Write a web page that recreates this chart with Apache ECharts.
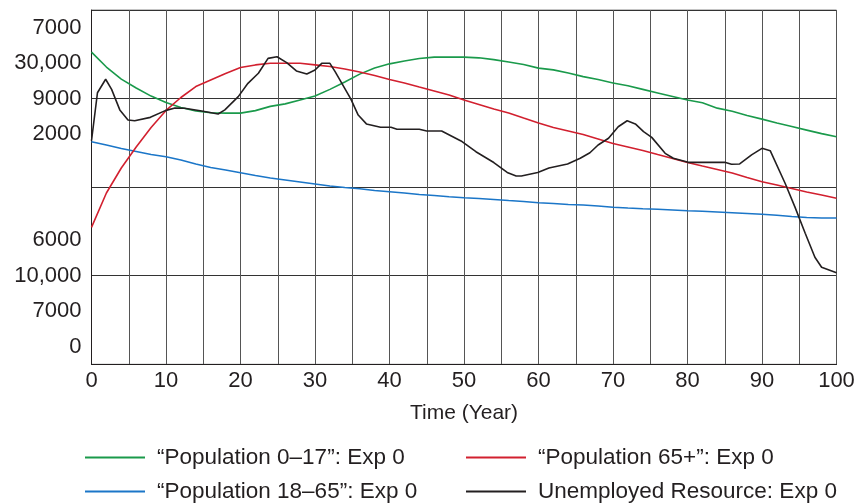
<!DOCTYPE html>
<html>
<head>
<meta charset="utf-8">
<script src="https://cdn.jsdelivr.net/npm/echarts@6/dist/echarts.min.js"></script>
<style>
html,body{margin:0;padding:0;background:#fff;}
#chart{width:860px;height:503px;}
</style>
</head>
<body>
<div id="chart"></div>
<script>
// ---- data ----
var years = [0,2,4,6,8,10,12,14,16,18,20,22,24,26,28,30,32,34,36,38,40,42,44,46,48,50,52,54,56,58,60,62,64,66,68,70,72,74,76,78,80,82,84,86,88,90,92,94,96,98,100];
var pop0_17 = [6881,6839,6805,6780,6757,6739,6725,6715,6710,6709,6709,6716,6728,6735,6746,6757,6776,6797,6819,6836,6848,6856,6863,6867,6867,6867,6865,6860,6853,6846,6836,6831,6822,6812,6804,6794,6786,6776,6766,6756,6746,6738,6723,6714,6702,6692,6681,6671,6661,6651,6642];
var pop18_65 = [22566,22379,22182,22013,21843,21719,21533,21307,21109,20968,20816,20658,20517,20404,20291,20178,20065,19980,19907,19811,19743,19670,19585,19529,19461,19405,19359,19303,19246,19190,19122,19077,19021,18992,18936,18863,18823,18784,18750,18710,18671,18637,18597,18558,18513,18468,18411,18343,18287,18259,18259];
var pop65 = [7773,7967,8108,8227,8337,8433,8506,8568,8605,8642,8675,8690,8699,8699,8699,8690,8681,8667,8650,8630,8608,8588,8565,8543,8520,8492,8467,8441,8419,8390,8362,8337,8317,8297,8272,8246,8227,8207,8184,8162,8139,8119,8100,8080,8054,8031,8012,7992,7973,7956,7937];
var unempYears = [0,0.8,1.9,2.7,3.8,4.9,5.8,7.9,9.9,11.2,12.5,14.8,17,17.9,19.7,21,22.4,23.7,24.9,26.2,27.5,28.9,30,30.9,32,32.7,34.8,35.8,36.9,38.8,40.2,41,44,45,47,49.6,51.6,54,55.8,57,57.7,59.9,61.4,63.9,65.6,66.9,68,69.4,70.7,71.9,73,74.1,75.2,77,78.1,80.1,85,85.9,87,88.6,90,91.1,93.1,94.4,95.8,97.1,98,100];
var unemployed = [1262,1533,1609,1552,1436,1379,1375,1394,1432,1447,1445,1430,1413,1436,1511,1586,1643,1727,1736,1703,1656,1639,1661,1699,1699,1652,1498,1407,1357,1338,1338,1327,1327,1317,1317,1261,1200,1139,1083,1063,1063,1083,1108,1131,1163,1194,1238,1276,1341,1375,1357,1313,1281,1191,1163,1140,1140,1129,1131,1182,1219,1206,1022,890,740,604,548,517];

// scales (min, max) per series: green, blue, red, black
var scaleMin = [6000, 10000, 7000, 0];
var scaleMax = [7000, 30000, 9000, 2000];
var topLabels = ['7000','30,000','9000','2000'];     // top to bottom
var bottomLabels = ['6000','10,000','7000','0'];     // top to bottom
var xTickLabels = ['0','10','20','30','40','50','60','70','80','90','100'];

var names = ['\u201cPopulation 0\u201317\u201d: Exp 0','\u201cPopulation 18\u201365\u201d: Exp 0','\u201cPopulation 65+\u201d: Exp 0','Unemployed Resource: Exp 0'];
var colors = ['#1a9a4b','#1b76c8','#d2202f','#231f20'];

// ---- chart ----
var FONT = 'Liberation Sans, Arial, sans-serif';
var TXT = '#231f20';
// category slots bottom->top: 4 bottom labels, 2 blanks, 4 top labels
var yCats = bottomLabels.slice().reverse().concat(['','']).concat(topLabels.slice().reverse());

function pairs(xs, ys){ return xs.map(function(x,i){ return [x, ys[i]]; }); }

var yAxes = [{
  type: 'category', data: yCats, boundaryGap: true,
  axisLine: {show: true, lineStyle: {color: '#231f20', width: 1}},
  axisTick: {show: false}, splitLine: {show: false},
  axisLabel: {color: TXT, fontSize: 22, fontFamily: FONT, margin: 10}
}];
for (var i = 0; i < 4; i++) {
  yAxes.push({
    type: 'value', show: i === 3, min: scaleMin[i], max: scaleMax[i],
    interval: (scaleMax[i] - scaleMin[i]) / 4,
    position: 'left',
    axisLine: {show: false}, axisTick: {show: false}, axisLabel: {show: false},
    splitLine: {show: i === 3, lineStyle: {color: '#333', width: 1}}
  });
}

var series = [
  {data: pairs(years, pop0_17)},
  {data: pairs(years, pop18_65)},
  {data: pairs(years, pop65)},
  {data: pairs(unempYears, unemployed)}
].map(function(s, i){
  return {
    name: names[i], type: 'line', yAxisIndex: i + 1, data: s.data,
    symbol: 'none', smooth: false, animation: false,
    lineStyle: {color: colors[i], width: 1.6}, itemStyle: {color: colors[i]}
  };
});

var legendCommon = {
  orient: 'vertical', top: 441, itemWidth: 60, itemHeight: 2, itemGap: 11,
  icon: 'rect', height: 62,
  textStyle: {color: TXT, fontSize: 22.5, fontFamily: FONT, padding: [0, 0, 0, 7]}
};

var chart = echarts.init(document.getElementById('chart'), null, {renderer: 'canvas'});
chart.setOption({
  animation: false,
  backgroundColor: '#fff',
  grid: {left: 91.5, right: 23.5, top: 10, bottom: 138.7, show: true, borderColor: '#888', borderWidth: 1, containLabel: false},
  xAxis: {
    type: 'value', min: 0, max: 100, interval: 5,
    name: 'Time (Year)', nameLocation: 'middle', nameGap: 38,
    nameTextStyle: {color: TXT, fontSize: 21, fontFamily: FONT},
    axisLine: {show: true, lineStyle: {color: '#231f20', width: 1}},
    axisTick: {show: false},
    axisLabel: {color: TXT, fontSize: 22, fontFamily: FONT, margin: 6,
      formatter: function(v){ return v % 10 === 0 ? xTickLabels[v / 10] : ''; }},
    splitLine: {show: true, lineStyle: {color: '#555', width: 1}}
  },
  yAxis: yAxes,
  legend: [
    Object.assign({}, legendCommon, {data: [names[0], names[1]], left: 80}),
    Object.assign({}, legendCommon, {data: [names[2], names[3]], left: 461})
  ],
  series: series
});
</script>
</body>
</html>
